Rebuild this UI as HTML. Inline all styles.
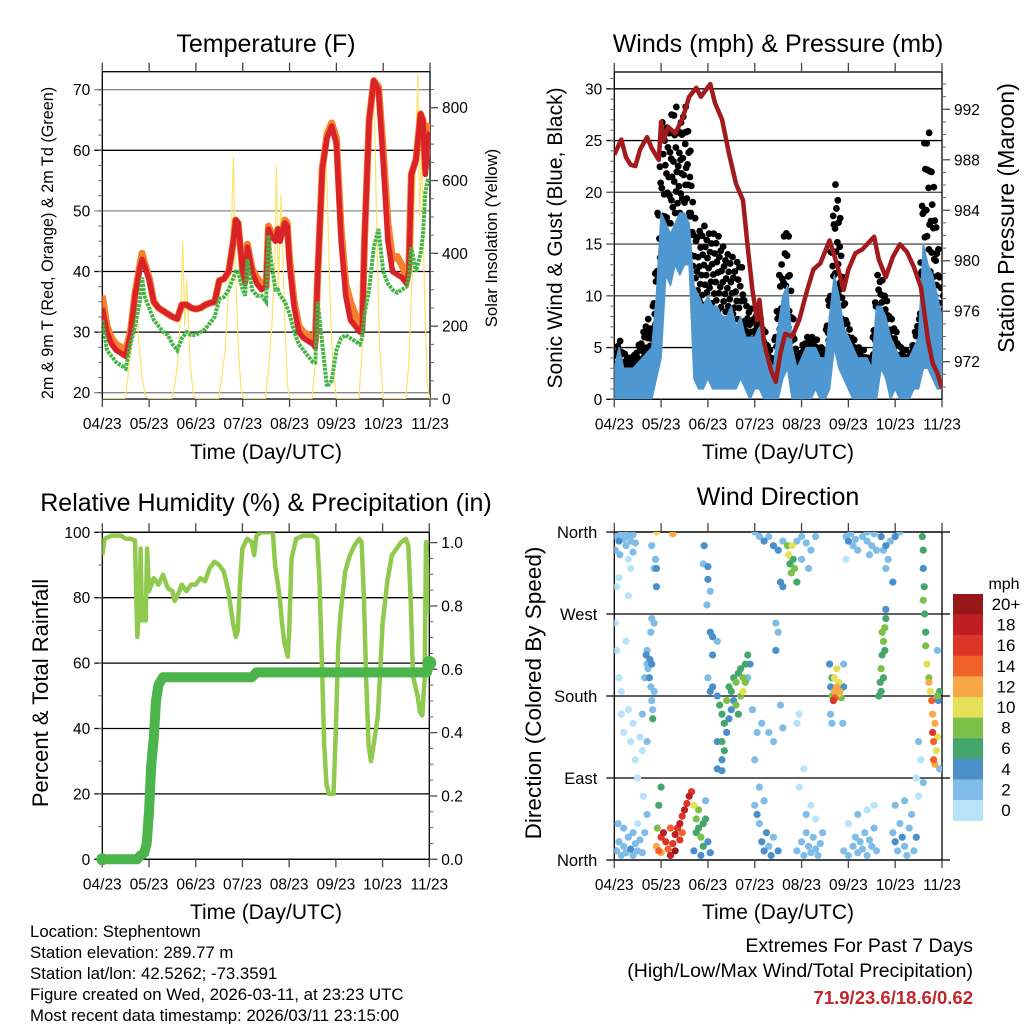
<!DOCTYPE html>
<html><head><meta charset="utf-8"><style>
html,body{margin:0;padding:0;background:#fff;}
svg{display:block;font-family:"Liberation Sans",sans-serif;}
</style></head><body>
<svg id="fig" width="1024" height="1024" viewBox="0 0 1024 1024" xmlns="http://www.w3.org/2000/svg">
<defs>
<clipPath id="c1"><rect x="102.3" y="71.7" width="327.7" height="327.3"/></clipPath>
<clipPath id="c2"><rect x="614.3" y="72" width="327.7" height="327.3"/></clipPath>
<clipPath id="c3"><rect x="102.3" y="532.3" width="327" height="327"/></clipPath>
<clipPath id="c4"><rect x="614.3" y="532" width="327.7" height="328"/></clipPath>
</defs>
<text x="266" y="52" font-size="25" text-anchor="middle">Temperature (F)</text>
<text x="778" y="52" font-size="25" text-anchor="middle">Winds (mph) &amp; Pressure (mb)</text>
<text x="266" y="511" font-size="25" text-anchor="middle">Relative Humidity (%) &amp; Precipitation (in)</text>
<text x="778" y="505" font-size="25" text-anchor="middle">Wind Direction</text>
<text transform="translate(53,243) rotate(-90)" font-size="16.2" text-anchor="middle">2m &amp; 9m T (Red, Orange) &amp; 2m Td (Green)</text>
<text transform="translate(497,238) rotate(-90)" font-size="16.7" text-anchor="middle">Solar Insolation (Yellow)</text>
<text transform="translate(562,238) rotate(-90)" font-size="21" text-anchor="middle">Sonic Wind &amp; Gust (Blue, Black)</text>
<text transform="translate(1014,218) rotate(-90)" font-size="23" text-anchor="middle">Station Pressure (Maroon)</text>
<text transform="translate(48,693) rotate(-90)" font-size="22" text-anchor="middle">Percent &amp; Total Rainfall</text>
<text transform="translate(541,693) rotate(-90)" font-size="22.5" text-anchor="middle">Direction (Colored By Speed)</text>
<text x="266" y="459" font-size="21" text-anchor="middle">Time (Day/UTC)</text>
<text x="778" y="459" font-size="21" text-anchor="middle">Time (Day/UTC)</text>
<text x="266" y="919" font-size="21" text-anchor="middle">Time (Day/UTC)</text>
<text x="778" y="919" font-size="21" text-anchor="middle">Time (Day/UTC)</text>
<g font-size="16.8">
<text x="30" y="937">Location: Stephentown</text>
<text x="30" y="958">Station elevation: 289.77 m</text>
<text x="30" y="979">Station lat/lon: 42.5262; -73.3591</text>
<text x="30" y="1000">Figure created on Wed, 2026-03-11, at 23:23 UTC</text>
<text x="30" y="1021">Most recent data timestamp: 2026/03/11 23:15:00</text>
</g>
<g font-size="19.5" text-anchor="end">
<text x="973" y="952">Extremes For Past 7 Days</text>
<text x="973" y="977">(High/Low/Max Wind/Total Precipitation)</text>
<text x="973" y="1004" fill="#c0262c" font-weight="bold" font-size="18.5">71.9/23.6/18.6/0.62</text>
</g>
<text x="1004" y="589" font-size="16" text-anchor="middle">mph</text>
<g id="layer"></g>
</svg>
<script>
const NS='http://www.w3.org/2000/svg';
const root=document.getElementById('layer');
function el(tag,attrs,parent){const e=document.createElementNS(NS,tag);for(const k in attrs)e.setAttribute(k,attrs[k]);(parent||root).appendChild(e);return e;}

// ---------- DATA ----------
const xTickLabels=['04/23','05/23','06/23','07/23','08/23','09/23','10/23','11/23'];
const tempTicks=[20,30,40,50,60,70];
const solarTicks=[0,200,400,600,800];
const windTicks=[0,5,10,15,20,25,30];
const presTicks=[972,976,980,984,988,992];
const rhTicks=[0,20,40,60,80,100];
const preTicks=[0.0,0.2,0.4,0.6,0.8,1.0];
const dirTicks=['North','East','South','West','North'];
const dirTickVals=[0,90,180,270,360];
const cbLabels=['20+','18','16','14','12','10','8','6','4','2','0'];
const cbColors=['#981519','#bf1e24','#dd3527','#f06229','#f9a847','#e6df58','#7ac14a','#45a66c','#4a8fc7','#7fbde8','#b8e3f8'];

const tTemp=[0,0.1,0.2,0.3,0.4,0.5,0.6,0.7,0.8,0.85,0.9,1.0,1.1,1.2,1.3,1.4,1.5,1.6,1.7,1.8,1.9,2.0,2.1,2.2,2.3,2.4,2.5,2.6,2.7,2.8,2.85,2.9,3.0,3.05,3.1,3.2,3.3,3.4,3.5,3.55,3.6,3.7,3.75,3.8,3.9,3.95,4.0,4.1,4.2,4.3,4.4,4.5,4.55,4.6,4.7,4.8,4.9,5.0,5.1,5.2,5.3,5.4,5.5,5.55,5.6,5.7,5.8,5.9,6.0,6.1,6.2,6.3,6.4,6.5,6.55,6.6,6.7,6.8,6.85,6.9,6.95,7.0];
const temp2m=[34,30,28,27,26.5,26,29.5,36,40.5,42,41,38.6,35,34,33.5,33,32.5,32.2,34.5,34.5,34,33.8,34,34.5,34.8,35,38.5,38.8,40,45,48.5,48,40,38,44,40,38,37,37.5,47,46,45,47,45,48,47.5,41,34,30,29,28.5,28,27.5,39,57,62,64,61,45,36,32,31,30,30,45,65,71.5,70,58,45,40,39.5,39,38,40,56,58.5,66,65,56,62,63];
const temp9m=[36,31,29,28,27.5,27,30,36.5,41,43,41.5,39,35,34,33.5,33,32.5,32.2,34.5,34.5,34,33.8,34,34.5,34.8,35,38.5,38.8,40,45,48.5,48,40,38.5,44.5,40.5,39,38,37.5,47.5,46.5,45.5,47,45.5,48.5,48,42,35,31,30,29.5,29,28.5,39,57,62.5,64.5,62,47,38,35,33,31,30.5,45,65,71.5,70.5,60,48,42,42.5,41,39,41,56,58.5,66,65,57,62,64.5];
const dew2m=[32,27,26,25,24.5,24,28,31,35,39,36,34,32,31,30,29.5,28,27,29,30,29.5,29.5,30,30.5,31.5,32.5,35.5,35.8,37,39,40,40,37,36,42,37,36,36,35,46,42,37,37,36,35,34,33,30,28,27,26,25,25,35,28,21,22,27,29,29.5,29,28.5,28,29,33,37,44,47,40,38,37,36.5,37,37.5,39,44,40,43,46,53,55,55];
const tSol=[0,0.48,0.55,0.62,0.68,0.73,0.78,0.85,0.92,1.0,1.48,1.55,1.62,1.68,1.72,1.76,1.8,1.88,1.95,2.0,2.48,2.55,2.62,2.7,2.76,2.8,2.84,2.9,2.96,3.02,3.48,3.55,3.62,3.68,3.72,3.76,3.82,3.9,3.96,4.02,4.48,4.55,4.62,4.68,4.74,4.8,4.86,4.92,5.0,5.48,5.55,5.62,5.68,5.74,5.8,5.86,5.92,6.0,6.48,6.55,6.62,6.68,6.74,6.78,6.82,6.88,6.94,7.0];
const solar=[0,0,60,140,200,270,150,60,10,0,0,40,110,250,430,200,330,90,10,0,0,60,130,300,480,665,380,150,30,0,0,80,200,350,640,300,560,200,30,0,0,100,300,550,748,600,300,100,0,0,130,350,620,800,840,500,150,0,0,100,350,600,894,500,700,300,40,0];

const tPres=[0,0.15,0.25,0.35,0.45,0.55,0.7,0.8,0.95,1.0,1.05,1.15,1.3,1.45,1.6,1.75,1.85,1.95,2.05,2.15,2.3,2.45,2.6,2.75,2.85,2.95,3.05,3.1,3.2,3.35,3.45,3.55,3.65,3.8,3.95,4.1,4.25,4.4,4.6,4.75,4.9,5.0,5.15,5.3,5.45,5.55,5.65,5.8,5.95,6.1,6.25,6.4,6.55,6.7,6.8,6.9,7.0];
const pressure=[988.4,989.6,988.2,987.6,987.5,988.8,989.8,988.9,988,991,989.5,990.6,990.1,991.2,993,993.7,993,993.5,994,992.5,991.2,988.5,986.1,984.8,981.1,977.7,975.3,976.9,973.5,971.3,970.4,972.7,974.2,974,975.3,977.4,979.3,979.8,981.6,979.8,977.7,979.3,980.6,980.9,981.5,981.9,980.1,978.7,980.3,981.3,980.7,979.5,977.9,973.7,971.9,971.1,969.9];
const tWind=[0,0.1,0.2,0.3,0.4,0.5,0.6,0.7,0.8,0.9,1.0,1.1,1.2,1.3,1.4,1.5,1.6,1.7,1.8,1.9,2.0,2.1,2.2,2.3,2.4,2.5,2.6,2.7,2.8,2.9,3.0,3.1,3.2,3.3,3.4,3.5,3.6,3.7,3.8,3.9,4.0,4.1,4.2,4.3,4.4,4.5,4.6,4.7,4.8,4.9,5.0,5.1,5.2,5.3,5.4,5.5,5.6,5.7,5.8,5.9,6.0,6.1,6.2,6.3,6.4,6.5,6.6,6.7,6.8,6.9,7.0];
const windLo=[0,0,0,0,0,0,0,0,0,2,4,12,11,13,12,13,13,2,1,1,2,1,1,1,1,1,1,2,1,0,1,1,0,0,0,0,2,3,0,0,0,0,0,1,0,0,1,5,3,2,1,0,0,0,0,0,0,3,2,0,1,0,0,0,1,1,3,3,2,1,1];
const windHi=[3,5,3,3,3,3.5,4,4.5,5,10,18,17,16,17,18,18,17,11,10,9,10,9,9,8,8,9,7,8,6,6,6,7,6,4,3,7,10,11,5,3,4,5,5,5,4,4,8,12,10,7,6,5,4,4,4,3,9,9,8,6,5,4,4,4,5,6,15,13,12,10,8];
const gustLo=[1,2,1,2,2,2,2,3,3,5,10,15,17,18,18,19,18,8,8,7,8,6,7,6,6,5,4,4,3,3,3,3,2,2,1,2,5,5,3,1,2,2,3,3,2,2,4,10,10,4,3,3,2,2,2,2,4,6,5,3,3,2,2,2,3,3,8,12,10,8,3];
const gustHi=[4,6,4.5,4,4,5,6,8,7,15,27,26,27,29,26,29,26,18,16,17,16,16,16,15,14,14,13,14,9,9,8,8,7,5,4,11,15,18,9,4,5,6,6,6,5,5,12,21,20,10,7,6,5,5,4,4,12,12,10,8,7,5,5,4,6,8,24,27,22,16,10];

const tRH=[0,0.05,0.2,0.4,0.5,0.6,0.7,0.72,0.75,0.8,0.82,0.85,0.88,0.93,0.96,1.0,1.1,1.2,1.3,1.4,1.5,1.55,1.65,1.7,1.8,1.9,2.0,2.1,2.2,2.3,2.4,2.5,2.6,2.7,2.8,2.86,2.9,2.95,3.0,3.1,3.2,3.25,3.3,3.4,3.6,3.65,3.7,3.8,3.85,3.9,3.97,4.0,4.05,4.15,4.3,4.5,4.6,4.65,4.7,4.75,4.8,4.85,4.95,5.0,5.05,5.1,5.2,5.3,5.4,5.5,5.55,5.6,5.65,5.7,5.75,5.8,5.9,6.0,6.1,6.2,6.3,6.4,6.5,6.55,6.6,6.65,6.75,6.8,6.85,6.9,6.93,7.0];
const rh=[93,98,99,99,98,98,97.5,85,68,80,95,73,74,73,95,82,86,84,87,83,82,79,82,84,82,84,84,86,85,89,91,90,88,82,72,68,70,85,95,98,97,93,99,100,100,100,90,80,72,66,62,70,92,98,99,99,98,85,60,35,23,20,20,40,65,75,88,93,96,98,97,80,55,35,30,34,44,72,85,93,95,97,98,96,80,56,50,45,44,55,97,75];
const tPre=[0,0.75,0.8,0.9,0.95,1.0,1.05,1.1,1.15,1.2,1.3,3.2,3.3,6.95,7.0];
const precip=[0,0,0.01,0.02,0.05,0.15,0.3,0.38,0.5,0.55,0.575,0.575,0.59,0.59,0.62];

const wdT=[0.05,0.1,0.15,0.2,0.25,0.3,0.35,0.4,0.45,0.12,0.3,0.02,0.2,0.4,0.1,0.05,0.35,
0.05,0.1,0.15,0.2,0.25,0.3,0.35,0.4,0.45,0.5,0.55,0.6,0.65,0.08,0.2,0.4,0.5,0.7,0.62,
0.02,0.05,0.1,0.15,0.2,0.3,0.35,0.4,0.25,0.45,0.5,0.55,0.6,0.65,0.7,0.7,0.6,0.15,0.3,
0.68,0.72,0.75,0.78,0.8,0.82,0.7,0.76,0.85,0.8,0.82,0.78,0.8,0.85,0.88,0.8,0.85,0.9,0.9,
0.9,0.95,1.0,1.05,1.1,1.15,1.2,1.25,1.3,1.35,1.4,1.45,1.5,1.55,1.6,1.65,1.0,1.2,1.4,0.92,1.45,1.3,0.95,1.0,0.9,1.25,
1.7,1.75,1.8,1.85,1.9,1.95,1.8,1.9,2.0,1.75,1.7,1.85,2.05,1.95,
1.92,1.9,2.0,2.0,1.98,2.05,2.05,2.1,2.1,2.2,2.0,2.05,2.1,
2.2,2.25,2.3,2.35,2.4,2.45,2.5,2.55,2.6,2.65,2.7,2.75,2.8,2.3,2.35,2.4,2.5,2.6,2.7,2.75,2.8,2.45,2.55,2.65,2.85,2.9,2.2,2.3,2.85,2.95,2.3,2.2,
3.05,3.1,3.15,3.2,3.25,3.3,3.35,3.4,3.5,3.1,3.2,3.0,3.05,3.15,3.3,3.4,3.55,3.6,3.0,
3.0,3.1,3.2,3.3,3.4,3.5,3.6,3.7,3.72,3.75,3.78,3.8,3.82,3.85,3.9,3.9,4.0,4.1,4.2,4.3,4.0,4.15,3.6,3.55,3.45,3.5,3.45,
3.9,4.0,4.05,4.1,4.15,4.2,4.25,4.3,4.35,4.4,4.45,4.1,4.2,4.3,3.95,4.05,3.95,3.9,
4.62,4.65,4.7,4.72,4.75,4.78,4.8,4.82,4.85,4.68,4.7,4.9,4.75,4.65,4.62,4.65,4.88,4.9,4.6,
4.9,5.0,5.1,5.15,5.2,5.25,5.3,5.35,5.4,5.45,5.5,5.55,5.6,5.0,5.2,5.4,5.55,
4.95,5.0,5.05,5.1,5.15,5.2,5.3,5.4,5.45,5.5,5.55,5.6,4.95,5.4,
5.65,5.68,5.7,5.72,5.75,5.78,5.8,5.75,5.7,5.72,5.78,5.8,
5.7,5.75,5.8,5.85,5.9,6.0,6.1,5.95,5.8,
5.95,6.0,6.05,6.1,6.15,6.2,6.25,6.3,6.35,6.0,6.2,6.4,6.45,
6.58,6.6,6.6,6.62,6.6,6.63,6.65,6.65,6.68,6.72,6.75,6.78,6.8,6.8,6.82,6.85,6.88,6.85,6.82,6.9,6.72,6.9,6.95,6.92,6.5,6.55,6.6,6.5,6.45,6.9,6.95];
const wdDir=[355,350,358,352,345,356,350,357,348,335,330,340,360,338,310,300,320,
10,20,5,15,8,25,12,5,18,10,22,8,30,40,35,30,40,50,70,
260,230,200,160,140,165,130,150,240,110,90,135,160,200,215,130,120,185,290,
225,210,200,190,175,165,230,220,185,215,155,250,265,260,330,345,320,320,300,
15,10,25,30,20,12,5,18,28,35,40,48,55,62,70,75,8,35,22,35,30,10,60,80,360,358,
60,45,35,25,15,45,55,40,20,30,10,5,8,65,
345,325,322,308,280,295,250,245,225,240,200,185,190,
180,170,160,150,175,190,185,200,195,205,210,200,215,130,120,140,165,170,180,185,195,155,175,160,225,215,100,110,200,165,98,130,
50,40,20,10,30,15,5,25,10,80,65,110,140,150,140,130,170,145,60,
360,355,350,355,345,340,350,345,335,325,315,345,330,320,305,350,355,348,340,355,330,320,300,305,260,250,230,
10,20,5,30,15,8,25,12,5,18,30,50,60,45,80,100,160,150,
190,180,185,178,190,182,195,185,178,175,200,190,210,200,160,150,150,215,215,
10,5,15,25,8,20,12,30,5,22,15,35,10,40,50,55,60,
355,350,358,345,352,340,355,350,335,345,358,340,330,360,
180,195,210,225,240,255,265,200,185,250,230,275,
355,340,345,330,350,355,360,305,320,
30,20,10,40,25,15,5,35,50,60,65,10,25,
355,340,320,300,285,270,250,235,215,195,185,175,160,140,130,150,120,105,110,135,200,180,185,175,130,110,85,70,90,230,100];
const wdSpd=[3,4,3,2,3,3,2,3,2,2,1,3,3,2,1,0,1,
3,2,3,3,2,3,4,3,2,3,2,3,3,2,3,2,1,3,1,
1,0,1,1,0,1,1,1,0,1,0,1,2,2,3,2,1,1,0,
4,3,4,3,2,3,3,4,2,4,6,2,3,2,3,2,2,4,4,
12,14,16,18,16,14,18,16,18,16,18,16,18,16,18,16,12,14,16,8,14,20,6,6,10,12,
10,8,6,8,6,6,8,6,5,7,5,4,4,3,
4,3,4,4,2,3,4,4,5,3,3,4,4,
5,6,7,6,8,6,7,6,8,6,7,8,6,6,6,4,4,8,9,10,8,5,5,7,7,5,4,5,3,3,4,4,
4,3,5,4,4,3,4,3,4,3,2,2,2,3,2,2,3,2,2,
3,3,4,3,4,4,3,8,10,6,8,10,7,8,6,3,2,2,2,3,2,2,4,4,3,3,4,
2,2,3,2,3,2,3,2,3,2,3,2,1,1,1,1,1,1,
4,8,12,14,12,10,10,12,8,16,10,4,10,6,3,2,2,3,4,
2,3,2,2,3,2,3,2,2,3,2,2,3,1,2,1,1,
3,4,3,3,2,2,3,2,2,3,2,3,1,3,
6,6,8,6,8,8,6,6,7,9,6,4,
4,3,4,3,3,4,3,4,2,
3,4,3,3,4,3,3,2,3,2,2,3,4,
6,6,4,6,8,6,6,8,10,12,10,14,12,16,14,12,10,12,14,10,8,8,6,4,2,1,2,1,1,2,2];

// ---------- SCALES ----------
const P1={x0:102.3,x1:430,top:71.7,bot:399};
const P2={x0:614.3,x1:942,top:72,bot:399.3};
const P3={x0:102.3,x1:429.3,top:532.3,bot:859.3};
const P4={x0:614.3,x1:942,top:532,bot:860};
const xs=P=>d=>P.x0+d*(P.x1-P.x0)/7;
const x1s=xs(P1),x2s=xs(P2),x3s=xs(P3),x4s=xs(P4);
const yT=v=>392.7-(v-20)*6.06;
const yS=v=>399-v*0.3641;
const yW=v=>399.3-v*10.35;
const yP=v=>361.7-(v-972)*12.62;
const yRH=v=>859.3-v*3.27;
const yPr=v=>859.3-v*316.7;
const yD=v=>860-v*328/360;

function linePath(ts,vs,xf,yf){let s='';const n=Math.min(ts.length,vs.length);for(let i=0;i<n;i++)s+=(i?'L':'M')+xf(ts[i]).toFixed(1)+' '+yf(vs[i]).toFixed(1);return s;}
function bandPath(ts,lo,hi,xf,yf){let s='';for(let i=0;i<ts.length;i++)s+=(i?'L':'M')+xf(ts[i]).toFixed(1)+' '+yf(hi[i]).toFixed(1);for(let i=ts.length-1;i>=0;i--)s+='L'+xf(ts[i]).toFixed(1)+' '+yf(lo[i]).toFixed(1);return s+'Z';}

// ---------- AXES ----------
function hgrid(P,vals,yf,colors,name){vals.forEach((v,i)=>{const l=el('line',{x1:P.x0-8,x2:P.x1,y1:yf(v),y2:yf(v),stroke:colors[i%colors.length],'stroke-width':1.3});

});}
function frameAndX(P,name){
 const f=el('rect',{x:P.x0,y:P.top,width:P.x1-P.x0,height:P.bot-P.top,fill:'none',stroke:'#000','stroke-width':1.3});
 
 
 const xf=xs(P);
 xTickLabels.forEach((lab,i)=>{const x=xf(i);
  const tb=el('line',{x1:x,x2:x,y1:P.bot,y2:P.bot+8,stroke:'#444','stroke-width':1.3});
  
  
  const tt=el('line',{x1:x,x2:x,y1:P.top,y2:P.top-9,stroke:'#444','stroke-width':1.3});
  
  
  const t=el('text',{x:x,y:P.bot+30,'font-size':15.5,'text-anchor':'middle'});t.textContent=lab;
  
  });
}
function yLabels(P,vals,yf,fmt,side,name,minor,myf){
 vals.forEach(v=>{const y=yf(v);const t=el('text',{x:side==='l'?P.x0-12:P.x1+12,y:y+5.5,'font-size':15.5,'text-anchor':side==='l'?'end':'start'});t.textContent=fmt(v);
  
  
  if(side==='r'){const tk=el('line',{x1:P.x1,x2:P.x1+8,y1:y,y2:y,stroke:'#444','stroke-width':1.3});
  
  }});
 (minor||[]).forEach(v=>{const y=myf(v);if(y<P.top||y>P.bot)return;const m=el('line',{x1:side==='l'?P.x0-4:P.x1,x2:side==='l'?P.x0:P.x1+4,y1:y,y2:y,stroke:'#666','stroke-width':1});
  
  });
}
const mk=(a,b,s)=>{const r=[];for(let v=a;v<=b+1e-9;v+=s)r.push(+v.toFixed(3));return r;};

// ---------- PANEL 1 ----------
hgrid(P1,tempTicks,yT,['#888','#000','#000','#888','#000','#888'],'temperature');
frameAndX(P1,'temperature');
yLabels(P1,tempTicks,yT,v=>v,'l','temperature-y',mk(20,72,2.5),yT);
yLabels(P1,solarTicks,yS,v=>v,'r','solar-y',mk(0,850,50),yS);
const g1=el('g',{'clip-path':'url(#c1)'});


const sol=el('path',{d:linePath(tSol,solar,x1s,yS),fill:'none',stroke:'#fde36b','stroke-width':1.2},g1);


const t9=el('path',{d:linePath(tTemp,temp9m,x1s,yT),fill:'none',stroke:'#f7802e','stroke-width':7,'stroke-linejoin':'round'},g1);


const t2=el('path',{d:linePath(tTemp,temp2m,x1s,yT),fill:'none',stroke:'#d92329','stroke-width':5.5,'stroke-linejoin':'round'},g1);


const td=el('path',{d:linePath(tTemp,dew2m,x1s,yT),fill:'none',stroke:'#45b445','stroke-width':4,'stroke-dasharray':'3 1'},g1);



// ---------- PANEL 2 ----------
hgrid(P2,windTicks,yW,['#000','#000','#555','#555','#555','#000','#000'],'wind');
frameAndX(P2,'wind');
yLabels(P2,windTicks,yW,v=>v,'l','wind-y',mk(0,31,1),yW);
yLabels(P2,presTicks,yP,v=>v,'r','pressure-y',mk(969,996,1),yP);
const g2=el('g',{'clip-path':'url(#c2)'});


const gustFrac=[0,0.1,0.2,0.3,0.4,0.5,0.6,0.7,0.8,0.9,1];
const gustOff=[0,0.05,0.02,0.08,0.035,0.065,0.015,0.09,0.045,0.075,0.025];
for(let i=0;i<tWind.length;i++){
 const nx=i+1<tWind.length?i+1:i;
 gustFrac.forEach((f,k)=>{
  const tt=tWind[i]+gustOff[k];
  const lo=gustLo[i]+(gustLo[nx]-gustLo[i])*gustOff[k]*10;
  const hi=gustHi[i]+(gustHi[nx]-gustHi[i])*gustOff[k]*10;
  const c=el('circle',{cx:x2s(tt),cy:yW(lo+(hi-lo)*f),r:3.4,fill:'#000'},g2);
  
  
 });
}
const wb=el('path',{d:bandPath(tWind,windLo,windHi,x2s,yW),fill:'#4f97d0',stroke:'#4f97d0','stroke-width':1.5,'stroke-linejoin':'round'},g2);


const pr=el('path',{d:linePath(tPres,pressure,x2s,yP),fill:'none',stroke:'#a11b1d','stroke-width':4.5,'stroke-linejoin':'round'},g2);



// ---------- PANEL 3 ----------
hgrid(P3,rhTicks,yRH,['#000'],'humidity');
frameAndX(P3,'humidity');
yLabels(P3,rhTicks,yRH,v=>v,'l','humidity-y',mk(0,100,10),yRH);
yLabels(P3,preTicks,yPr,v=>v.toFixed(1),'r','precip-y',mk(0,1.03,0.05),yPr);
const g3=el('g',{'clip-path':'url(#c3)'});


const rl=el('path',{d:linePath(tRH,rh,x3s,yRH),fill:'none',stroke:'#8fca4f','stroke-width':4.5,'stroke-linejoin':'round'},g3);


const pl=el('path',{d:linePath(tPre,precip,x3s,yPr),fill:'none',stroke:'#4bb44b','stroke-width':10,'stroke-linejoin':'round','stroke-linecap':'round'});


const pe=el('circle',{cx:x3s(tPre[tPre.length-1]),cy:yPr(precip[precip.length-1]),r:7,fill:'#4bb44b'});


const ps=el('circle',{cx:x3s(tPre[0]),cy:yPr(precip[0]),r:6,fill:'#4bb44b'});



// ---------- PANEL 4 ----------
hgrid(P4,dirTickVals,yD,['#000'],'direction');
dirTickVals.forEach(v=>{const l=el('line',{x1:P4.x1,x2:P4.x1+8,y1:yD(v),y2:yD(v),stroke:'#000','stroke-width':1.3});

});
frameAndX(P4,'direction');
dirTickVals.forEach((v,i)=>{const t=el('text',{x:P4.x0-17,y:yD(v)+6,'font-size':16.5,'text-anchor':'end'});t.textContent=dirTicks[i];

});
const g4=el('g',{'clip-path':'url(#c4)'});


function spdColor(s){let b=Math.floor(s/2);if(b>10)b=10;return cbColors[10-b];}
const nW=Math.min(wdT.length,wdDir.length,wdSpd.length);
const order=[...Array(nW).keys()].sort((a,b)=>wdSpd[a]-wdSpd[b]);
order.forEach(i=>{const c=el('circle',{cx:x4s(wdT[i]),cy:yD(wdDir[i]),r:3.6,fill:spdColor(wdSpd[i])},g4);

});

// colorbar
cbLabels.forEach((lab,i)=>{const y=594+i*20.6;
 const r=el('rect',{x:953,y:y,width:30,height:20.8,fill:cbColors[i]});
 
 
 const t=el('text',{x:1006,y:y+16,'font-size':17,'text-anchor':'middle'});t.textContent=lab;
 
 });
</script>
</body></html>
